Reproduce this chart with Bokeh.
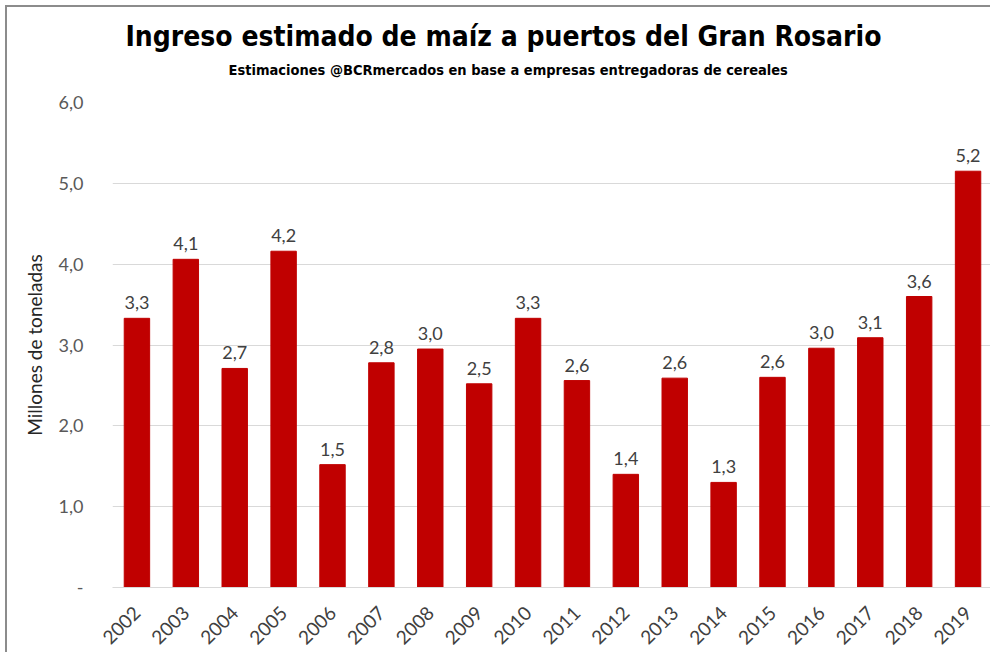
from bokeh.plotting import figure
from bokeh.models import ColumnDataSource, FixedTicker, Title
from bokeh.core.properties import value
from bokeh.embed import file_html
from bokeh.resources import INLINE
import math

years = ["2002", "2003", "2004", "2005", "2006", "2007", "2008", "2009", "2010",
         "2011", "2012", "2013", "2014", "2015", "2016", "2017", "2018", "2019"]
ingreso = [3.33, 4.06, 2.71, 4.16, 1.52, 2.78, 2.95, 2.52, 3.33,
           2.56, 1.40, 2.59, 1.30, 2.60, 2.96, 3.09, 3.60, 5.15]
y_ticks = [0, 1, 2, 3, 4, 5, 6]
y_tick_labels = ["-", "1,0", "2,0", "3,0", "4,0", "5,0", "6,0"]

title_text = "Ingreso estimado de maíz a puertos del Gran Rosario"
subtitle_text = "Estimaciones @BCRmercados en base a empresas entregadoras de cereales"
ylabel_text = "Millones de toneladas"

labels = [f"{v:.1f}".replace(".", ",") for v in ingreso]
src = ColumnDataSource(dict(x=years, top=ingreso, label=labels))

BODY = "Lato"
COND = "DejaVu Sans Condensed"

p = figure(width=985, height=647, x_range=years, y_range=(0, 6),
           output_backend="svg", toolbar_location=None,
           min_border_left=105, min_border_right=0, min_border_top=95,
           min_border_bottom=67)
p.styles = {"border-left": "2px solid #8c8c8c", "border-top": "2px solid #8c8c8c",
            "margin-left": "5px", "margin-top": "5px"}

p.vbar(x="x", top="top", width=0.52, source=src, color="#C00000")
p.text(x="x", y="top", text="label", source=src, text_align="center",
       text_baseline="bottom", y_offset=-9, text_font=value(BODY),
       text_font_size="18px", text_color="#404040")

p.title = None
sub = Title(text=subtitle_text, align="left", offset=116,
            text_font=COND, text_font_size="14.5px", text_font_style="bold",
            text_color="#000000", standoff=50)
tit = Title(text=title_text, align="left", offset=13,
            text_font=COND, text_font_size="28px", text_font_style="bold",
            text_color="#000000", standoff=-37)
p.add_layout(sub, "above")
p.add_layout(tit, "above")

p.outline_line_color = None
p.xgrid.grid_line_color = None
p.ygrid.grid_line_color = "#d9d9d9"
p.ygrid.ticker = FixedTicker(ticks=y_ticks)

p.yaxis.ticker = FixedTicker(ticks=y_ticks)
p.yaxis.major_label_overrides = {t: l for t, l in zip(y_ticks, y_tick_labels)}
p.yaxis.axis_line_color = None
p.yaxis.major_tick_line_color = None
p.yaxis.minor_tick_line_color = None
p.yaxis.major_label_standoff = 23
p.yaxis.major_label_text_font = BODY
p.yaxis.major_label_text_font_size = "18px"
p.yaxis.major_label_text_color = "#595959"
p.yaxis.axis_label = ylabel_text
p.yaxis.axis_label_text_font = BODY
p.yaxis.axis_label_text_font_size = "19px"
p.yaxis.axis_label_text_font_style = "normal"
p.yaxis.axis_label_text_color = "#262626"
p.yaxis.axis_label_standoff = 10

p.xaxis.axis_line_color = "#d9d9d9"
p.xaxis.major_tick_line_color = None
p.xaxis.minor_tick_line_color = None
p.xaxis.major_label_orientation = math.pi / 4
p.xaxis.major_label_standoff = 16
p.xaxis.major_label_text_font = BODY
p.xaxis.major_label_text_font_size = "19px"
p.xaxis.major_label_text_color = "#404040"
p.x_range.range_padding = 0

open("out.html", "w").write(file_html(p, INLINE))
